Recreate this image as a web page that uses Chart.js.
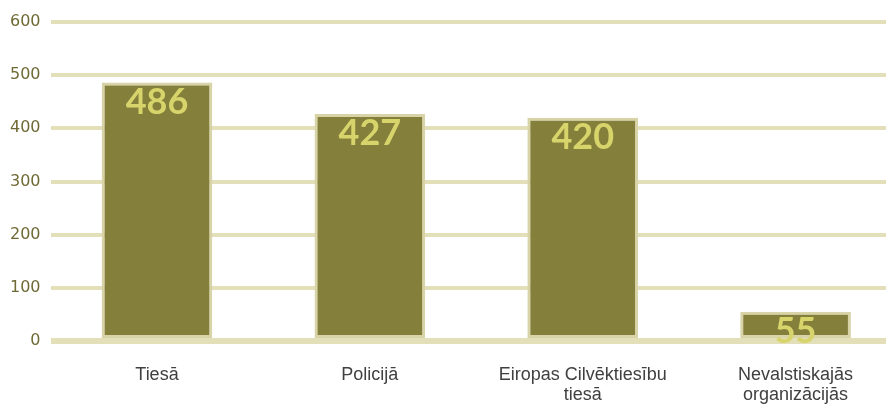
<!DOCTYPE html>
<html><head><meta charset="utf-8">
<script src="https://cdn.jsdelivr.net/npm/chart.js@4"></script>
<style>html,body{margin:0;padding:0;background:#fff;overflow:hidden}#w{width:902px;height:407px}</style>
</head><body><div id="w"><canvas id="c"></canvas></div>
<script>
const categories = [["Tiesā"], ["Policijā"], ["Eiropas Cilvēktiesību", "tiesā"], ["Nevalstiskajās", "organizācijās"]];
const values = [486, 427, 420, 55];
const yTicks = [0, 100, 200, 300, 400, 500, 600];

const valueLabels = {
  id: 'valueLabels',
  afterDatasetsDraw(chart) {
    const ctx = chart.ctx;
    const meta = chart.getDatasetMeta(0);
    ctx.save();
    ctx.font = 'bold 36px Lato';
    ctx.fillStyle = '#d8d46c';
    ctx.textAlign = 'center';
    ctx.textBaseline = 'alphabetic';
    meta.data.forEach((bar, i) => {
      ctx.fillText(String(values[i]), bar.x, bar.y + 31);
    });
    ctx.restore();
  }
};

new Chart(document.getElementById('c'), {
  type: 'bar',
  data: {
    labels: categories,
    datasets: [{
      data: values,
      backgroundColor: '#847f3a',
      borderColor: '#d8d4a8',
      borderWidth: 3,
      borderSkipped: false,
      barPercentage: 0.52,
      categoryPercentage: 1
    }]
  },
  options: {
    responsive: true,
    maintainAspectRatio: false,
    animation: false,
    layout: { padding: { top: 22, right: 0, left: 0, bottom: 0 } },
    plugins: { legend: { display: false }, tooltip: { enabled: false } },
    scales: {
      x: {
        grid: { display: false, drawTicks: false },
        border: { display: false },
        afterFit(axis) { axis.height = 66; },
        ticks: { color: '#404040', font: { family: 'Liberation Sans', size: 18, lineHeight: 1.1 }, padding: 24, maxRotation: 0, autoSkip: false }
      },
      y: {
        min: 0, max: 600,
        afterBuildTicks(axis) { axis.ticks = yTicks.map(v => ({ value: v })); },
        grid: {
          color: '#e3dfb9',
          lineWidth: c => c.tick && c.tick.value === 0 ? 6 : 4,
          drawTicks: false
        },
        border: { display: false },
        ticks: { color: '#6f6a35', font: { family: 'DejaVu Sans', size: 16 }, padding: 10 }
      }
    }
  },
  plugins: [valueLabels]
});
</script></body></html>
